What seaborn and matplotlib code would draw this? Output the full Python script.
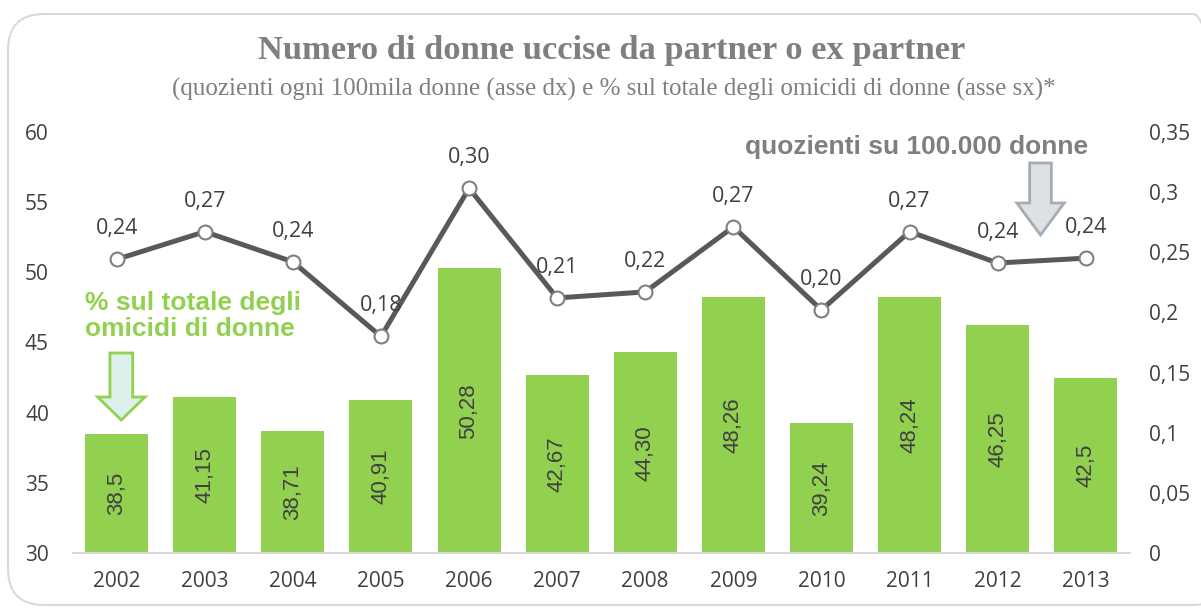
import numpy as np
import pandas as pd
import seaborn as sns
import matplotlib.pyplot as plt
from matplotlib.patches import FancyBboxPatch, Polygon

# data
years = ["2002", "2003", "2004", "2005", "2006", "2007",
         "2008", "2009", "2010", "2011", "2012", "2013"]
pct_omicidi = [38.5, 41.15, 38.71, 40.91, 50.28, 42.67,
               44.30, 48.26, 39.24, 48.24, 46.25, 42.5]
pct_labels = ["38,5", "41,15", "38,71", "40,91", "50,28", "42,67",
              "44,30", "48,26", "39,24", "48,24", "46,25", "42,5"]
quozienti = [0.244, 0.267, 0.242, 0.180, 0.303, 0.212,
             0.217, 0.271, 0.202, 0.267, 0.241, 0.245]
quoz_labels = ["0,24", "0,27", "0,24", "0,18", "0,30", "0,21",
               "0,22", "0,27", "0,20", "0,27", "0,24", "0,24"]
left_ticks = [30, 35, 40, 45, 50, 55, 60]
right_ticks = [0, 0.05, 0.1, 0.15, 0.2, 0.25, 0.3, 0.35]
right_tick_labels = ["0", "0,05", "0,1", "0,15", "0,2", "0,25", "0,3", "0,35"]

GREEN = "#92d050"
LINE = "#595959"
TXT = "#404040"
AXC = "#d9d9d9"

sns.set_theme(style="white")
plt.rcParams["font.family"] = ["Open Sans", "DejaVu Sans"]

W, H = 1201, 609
fig = plt.figure(figsize=(W / 100, H / 100), dpi=100)

# rounded frame around the chart
frame = FancyBboxPatch((8 / W, 4 / H), (W + 20) / W, (H - 18) / H,
                       boxstyle="round,pad=0,rounding_size=0.03",
                       transform=fig.transFigure, facecolor="none",
                       edgecolor=AXC, linewidth=1.5, mutation_aspect=W / H,
                       zorder=-1)
fig.patches.append(frame)

ax = fig.add_axes([72.6 / W, 1 - 553.3 / H, 1057.2 / W, 421.6 / H])
ax.patch.set_alpha(0)

df = pd.DataFrame({"anno": years, "pct": pct_omicidi, "quoz": quozienti})

sns.barplot(data=df, x="anno", y="pct", color=GREEN, saturation=1,
            width=0.715, ax=ax, edgecolor="none")
ax.set_ylim(30, 60)
ax.set_xlim(-0.5, len(years) - 0.5)

# value labels centred in the visible part of each bar
for i, (v, lab) in enumerate(zip(pct_omicidi, pct_labels)):
    ax.text(i, (30 + v) / 2, lab, rotation=90, ha="center", va="center",
            fontsize=16, color=TXT, family=["Liberation Sans", "DejaVu Sans"])

ax.set_yticks(left_ticks)
ax.set_yticklabels([str(t) for t in left_ticks])
ax.set_xlabel("")
ax.set_ylabel("")
for s in ["top", "right", "left"]:
    ax.spines[s].set_visible(False)
ax.spines["bottom"].set_color(AXC)
ax.spines["bottom"].set_linewidth(1.5)
ax.tick_params(axis="y", length=0, pad=17, labelsize=15, labelcolor=TXT)
ax.tick_params(axis="x", which="major", length=0, pad=13, labelsize=15,
               labelcolor=TXT)
ax.set_xticks(np.arange(-0.5, len(years), 1), minor=True)
ax.tick_params(axis="x", which="minor", length=5, width=1.5, color=AXC)

ax2 = ax.twinx()
sns.lineplot(x=np.arange(len(years)), y=quozienti, ax=ax2, color=LINE,
             linewidth=3.6, marker="o", markersize=10,
             markerfacecolor="white", markeredgecolor="#7f7f7f",
             markeredgewidth=1.5)
ax2.set_ylim(0, 0.35)
ax2.set_yticks(right_ticks)
ax2.set_yticklabels(right_tick_labels)
ax2.tick_params(axis="y", length=0, pad=14, labelsize=15, labelcolor=TXT)
for s in ax2.spines.values():
    s.set_visible(False)

for i, (v, lab) in enumerate(zip(quozienti, quoz_labels)):
    ax2.annotate(lab, (i, v), xytext=(0, 22), textcoords="offset points",
                 ha="center", va="center", fontsize=15.5, color=TXT)

# titles
fig.text(0.509, 1 - 51 / H, "Numero di donne uccise da partner o ex partner",
         ha="center", va="center", fontsize=24.8, fontweight="bold",
         color="#7f7f7f", family=["Liberation Serif", "DejaVu Serif"])
fig.text(0.511, 1 - 89 / H,
         "(quozienti ogni 100mila donne (asse dx) e % sul totale degli omicidi di donne (asse sx)*",
         ha="center", va="center", fontsize=18, color="#7f7f7f",
         family=["Liberation Serif", "DejaVu Serif"])

# annotations
fig.text(917 / W, 1 - 147 / H, "quozienti su 100.000 donne", ha="center",
         va="center", fontsize=19, fontweight="bold", color="#7f7f7f",
         family=["Liberation Sans", "DejaVu Sans"])
fig.text(85 / W, 1 - 316 / H, "% sul totale degli\nomicidi di donne", ha="left",
         va="center", fontsize=19, fontweight="bold", color=GREEN,
         linespacing=1.15, family=["Liberation Sans", "DejaVu Sans"])


def block_arrow(xc, top, head, tip, shaft_w, head_w, face, edge):
    pts = [(xc - shaft_w / 2, top), (xc + shaft_w / 2, top),
           (xc + shaft_w / 2, head), (xc + head_w / 2, head), (xc, tip),
           (xc - head_w / 2, head), (xc - shaft_w / 2, head)]
    pts = [(x / W, 1 - y / H) for x, y in pts]
    fig.patches.append(Polygon(pts, closed=True, transform=fig.transFigure,
                               facecolor=face, edgecolor=edge, linewidth=2))


block_arrow(121.3, 353, 397, 420, 22.7, 47.3, "#dcf0ec", GREEN)
block_arrow(1040.5, 163, 203, 235, 21.7, 47.3, "#dde1e5", "#a3adb5")

fig.savefig("out.png", dpi=100)
